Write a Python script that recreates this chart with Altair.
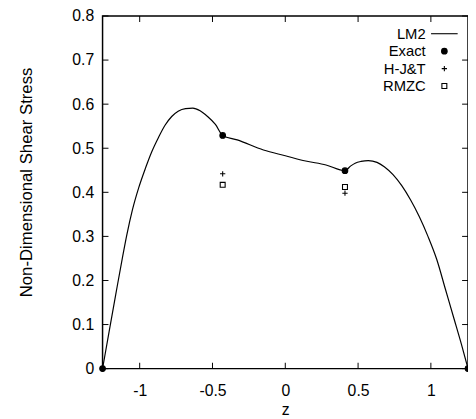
import altair as alt
import pandas as pd

# ---- data ----
Z_MIN, Z_MAX = -1.255, 1.255

lm2_z = [-1.255, -1.21, -1.164, -1.12, -1.088, -1.05, -1.007, -0.96, -0.917, -0.87,
         -0.826, -0.78, -0.736, -0.685, -0.635, -0.585, -0.534, -0.48, -0.43,
         -0.33, -0.15, 0.0, 0.14, 0.28, 0.41,
         0.45, 0.48, 0.52, 0.57, 0.63, 0.68, 0.74, 0.80, 0.86, 0.92, 0.98,
         1.04, 1.10, 1.16, 1.21, 1.255]
lm2_v = [0.0, 0.084, 0.169, 0.249, 0.304, 0.36, 0.41, 0.455, 0.492, 0.525,
         0.552, 0.572, 0.584, 0.59, 0.591, 0.585, 0.572, 0.554, 0.529,
         0.519, 0.496, 0.483, 0.471, 0.462, 0.449,
         0.46, 0.466, 0.47, 0.472, 0.468, 0.458, 0.44, 0.415, 0.383, 0.345, 0.30,
         0.248, 0.18, 0.112, 0.055, 0.0]

exact_z = [-1.255, -0.43, 0.41, 1.255]
exact_v = [0.0, 0.529, 0.449, 0.0]
hjt_z = [-0.43, 0.41]
hjt_v = [0.442, 0.398]
rmzc_z = [-0.43, 0.41]
rmzc_v = [0.417, 0.412]

series = ["LM2", "Exact", "H-J&T", "RMZC"]
x_ticks = [-1, -0.5, 0, 0.5, 1]
y_ticks = [0, 0.1, 0.2, 0.3, 0.4, 0.5, 0.6, 0.7, 0.8]

FONT = "Liberation Sans"

line_df = pd.DataFrame({"z": lm2_z, "v": lm2_v})
pts_df = pd.DataFrame({
    "z": exact_z + hjt_z + rmzc_z,
    "v": exact_v + hjt_v + rmzc_v,
    "series": ["Exact"] * len(exact_z) + ["H-J&T"] * len(hjt_z) + ["RMZC"] * len(rmzc_z),
})

xscale = alt.Scale(domain=[Z_MIN, Z_MAX], nice=False, zero=False)
yscale = alt.Scale(domain=[0, 0.8], nice=False, zero=False)

label_expr = "datum.value < 0 ? '-' + format(-datum.value, '~g') : format(datum.value, '~g')"

x_axis = alt.Axis(
    values=x_ticks, title="z", tickSize=0, domain=False, grid=False,
    labelExpr=label_expr, labelFontSize=16, labelPadding=14, labelFont=FONT,
    labelColor="black", titleFont=FONT, titleFontSize=16, titleFontWeight="normal",
    titleColor="black", titlePadding=4)
y_axis = alt.Axis(
    values=y_ticks, title="Non-Dimensional Shear Stress", tickSize=0, domain=False,
    grid=False, labelExpr=label_expr, labelFontSize=16, labelPadding=9, labelFont=FONT,
    labelColor="black", titleFont=FONT, titleFontSize=17, titleFontWeight="normal",
    titleColor="black", titlePadding=37, titleY=168.5)

line = alt.Chart(line_df).mark_line(color="black", strokeWidth=1.2, interpolate="monotone").encode(
    x=alt.X("z:Q", scale=xscale, axis=x_axis),
    y=alt.Y("v:Q", scale=yscale, axis=y_axis),
)

legend = alt.Legend(
    title=None, orient="none", legendX=339.5, legendY=10.5,
    labelAlign="right", labelOffset={"expr": "-26.5"}, labelFontSize=15, labelFont=FONT,
    labelColor="black", rowPadding=1.7, padding=0, symbolOffset=0,
    symbolStrokeWidth=1.1,
)

points = alt.Chart(pts_df).mark_point(color="black", filled=False, strokeWidth=1.1, opacity=1).encode(
    x=alt.X("z:Q", scale=xscale, axis=x_axis),
    y=alt.Y("v:Q", scale=yscale, axis=y_axis),
    shape=alt.Shape("series:N", scale=alt.Scale(
        domain=series, range=["M-4.5,0H4.5", "circle", "M-1,0H1M0,-1V1", "square"]), legend=legend),
    fill=alt.Fill("series:N", scale=alt.Scale(
        domain=series, range=["transparent", "black", "black", "white"]), legend=legend),
    stroke=alt.Stroke("series:N", scale=alt.Scale(
        domain=series, range=["black", "black", "black", "black"]), legend=legend),
    size=alt.Size("series:N", scale=alt.Scale(domain=series, range=[36, 25, 30, 36]), legend=legend),
)

tick_len = 6
bx = pd.DataFrame({"z": x_ticks, "v": [0.0] * len(x_ticks)})
tx = pd.DataFrame({"z": x_ticks, "v": [0.8] * len(x_ticks)})
ly = pd.DataFrame({"z": [Z_MIN] * len(y_ticks), "v": y_ticks})
ry = pd.DataFrame({"z": [Z_MAX] * len(y_ticks), "v": y_ticks})


def ticks(df, orient, xo, yo):
    return alt.Chart(df).mark_tick(color="black", orient=orient, size=tick_len, thickness=1,
                                   xOffset=xo, yOffset=yo, opacity=1).encode(
        x=alt.X("z:Q", scale=xscale, axis=x_axis),
        y=alt.Y("v:Q", scale=yscale, axis=y_axis),
    )


chart = alt.layer(
    line,
    ticks(bx, "vertical", 0, -tick_len / 2),
    ticks(tx, "vertical", 0, tick_len / 2),
    ticks(ly, "horizontal", tick_len / 2, 0),
    ticks(ry, "horizontal", -tick_len / 2, 0),
    points,
).properties(
    width=371, height=358,
    autosize=alt.AutoSizeParams(type="none"),
    padding={"left": 96, "top": 5, "right": 0, "bottom": 46},
    background="white",
).configure_view(
    stroke="black", strokeWidth=1.5
)

chart.save("out.html", embed_options={"renderer": "svg", "actions": False})
